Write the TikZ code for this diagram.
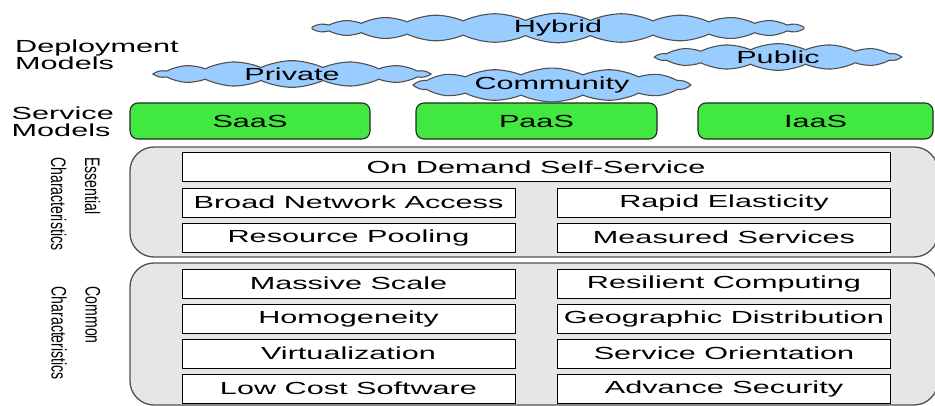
\documentclass[tikz,border=0pt]{standalone}
\usepackage{fontspec}
\usetikzlibrary{shapes.symbols}
\usepackage{xcolor}
\newfontfamily\diagfont{Liberation Sans}[FakeStretch=1.75]
\newfontfamily\sidefont{Liberation Sans}[FakeStretch=0.67]
\definecolor{skyblue}{RGB}{153,204,255}
\definecolor{svcgreen}{RGB}{64,232,64}
\definecolor{panelgray}{RGB}{230,230,230}
\definecolor{edgegray}{RGB}{80,80,80}

\begin{document}
\begin{tikzpicture}[x=1pt, y=-1pt,
    every node/.style={font=\diagfont\fontsize{17.5}{15}\selectfont, inner sep=0pt},
    sky/.style={cloud, cloud puff arc=50, aspect=10,
        draw=edgegray, fill=skyblue, line width=1.1pt, minimum height=19pt},
    svc/.style={rectangle, rounded corners=8pt, draw=black!85, fill=svcgreen,
        line width=1.1pt, minimum height=36pt},
    panel/.style={rectangle, rounded corners=24pt, draw=edgegray, fill=panelgray,
        line width=1.3pt, minimum width=808pt},
    cell/.style={rectangle, draw=black, fill=white, line width=1pt,
        minimum height=29pt, minimum width=333pt},
    side/.style={font=\sidefont\fontsize{21}{34}\selectfont, align=left,
        rotate=-90, anchor=north west}]
    \useasboundingbox (0, 0) rectangle (935, 405);

    % deployment models
    \draw
    (558, 28) node[sky, cloud puffs=24, minimum width=492pt](hybrid) {Hybrid}
    (778, 57) node[sky, cloud puffs=14, minimum width=242pt](public) {Public}
    (292, 74) node[sky, cloud puffs=14, minimum width=272pt, minimum height=18pt](private) {Private}
    (552, 85) node[sky, cloud puffs=14, minimum width=272pt](community) {Community};

    % service models
    \draw
    (250, 121) node[svc, minimum width=240pt](saas) {SaaS}
    (536.5, 121) node[svc, minimum width=241pt](paas) {PaaS}
    (815.5, 121) node[svc, minimum width=235pt](iaas) {IaaS};

    % characteristics
    \draw
    (534, 202) node[panel, minimum height=110pt](essential) {}
    (534, 334) node[panel, minimum height=142pt](common) {};

    \draw
    (536, 167) node[cell, minimum width=708pt](demand) {On Demand Self-Service}
    (348.5, 202.5) node[cell](network) {Broad Network Access}
    (724, 202.5) node[cell](elastic) {Rapid Elasticity}
    (348.5, 237.5) node[cell](pooling) {Resource Pooling}
    (724, 237.5) node[cell](measured) {Measured Services};

    \draw
    (348.5, 283.5) node[cell](scale) {Massive Scale}
    (724, 283.5) node[cell](resilient) {Resilient Computing}
    (348.5, 318.5) node[cell](homog) {Homogeneity}
    (724, 318.5) node[cell](geo) {Geographic Distribution}
    (348.5, 353.5) node[cell](virt) {Virtualization}
    (724, 353.5) node[cell](orient) {Service Orientation}
    (348.5, 388.5) node[cell](lowcost) {Low Cost Software}
    (724, 388.5) node[cell](security) {Advance Security};

    % layer labels
    \draw
    (15, 54.5) node[anchor=west, align=left](deploylbl) {Deployment\\Models}
    (11.5, 121.5) node[anchor=west, align=left, font=\diagfont\fontsize{17.5}{17}\selectfont](servicelbl) {Service\\Models}
    (100.5, 157) node[side](essentiallbl) {Essential\\Characteristics}
    (100.5, 286.5) node[side](commonlbl) {Common\\Characteristics};
\end{tikzpicture}
\end{document}
